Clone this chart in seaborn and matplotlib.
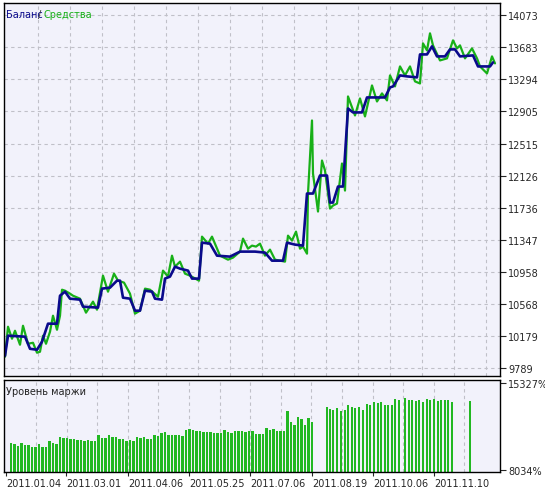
import numpy as np
import pandas as pd
import seaborn as sns
import matplotlib
matplotlib.use("Agg")
import matplotlib.pyplot as plt

# time position (bar index) and balance / equity values
bal_t = [0, 3, 20, 25, 32, 37, 43, 52, 55, 60, 65, 75, 78, 93, 97, 105, 112, 115, 118, 125, 130, 135, 140, 147,
         150, 157, 160, 165, 170, 175, 183, 187, 194, 197, 205, 212, 225, 235, 250, 260, 267, 278, 282, 290, 298,
         302, 308, 315, 322, 325, 328, 333, 338, 343, 348, 357, 362, 380, 385, 388, 395, 402, 412, 415, 422, 427,
         432, 440, 445, 450, 455, 468, 473, 485, 488]
balance = [9935, 10179, 10167, 10020, 10008, 10106, 10325, 10325, 10665, 10714, 10629, 10617, 10532, 10520, 10751,
           10763, 10848, 10848, 10641, 10629, 10483, 10483, 10726, 10714, 10629, 10617, 10873, 10897, 11018, 10994,
           10970, 10873, 10873, 11310, 11298, 11152, 11140, 11201, 11201, 11189, 11091, 11091, 11310, 11286, 11274,
           11907, 11907, 12126, 12126, 11797, 11797, 11992, 11992, 12941, 12893, 12893, 13075, 13075, 13197, 13209,
           13343, 13331, 13319, 13598, 13598, 13696, 13574, 13574, 13659, 13659, 13574, 13586, 13452, 13452, 13501]

eq_t = [0, 3, 7, 10, 15, 18, 23, 28, 32, 35, 38, 41, 45, 48, 52, 55, 57, 60, 65, 68, 75, 81, 88, 92, 98, 103, 109,
        113, 119, 125, 130, 135, 140, 145, 153, 158, 163, 167, 170, 175, 180, 185, 194, 197, 203, 207, 215, 223, 228,
        235, 238, 243, 247, 251, 255, 260, 265, 270, 280, 283, 287, 291, 295, 298, 302, 303, 307, 308, 313, 317, 320,
        325, 328, 332, 337, 340, 343, 350, 355, 360, 367, 372, 377, 382, 385, 390, 395, 400, 405, 410, 415, 418, 422,
        425, 428, 435, 442, 448, 452, 455, 460, 467, 472, 475, 482, 487, 490]
equity = [9923, 10288, 10142, 10239, 10069, 10300, 10081, 10093, 9972, 9984, 10179, 10081, 10227, 10422, 10251, 10422,
          10738, 10726, 10690, 10665, 10629, 10459, 10593, 10495, 10909, 10714, 10933, 10848, 10824, 10690, 10447,
          10483, 10751, 10738, 10653, 10970, 10897, 11152, 11018, 11079, 10933, 10909, 10848, 11383, 11298, 11383,
          11152, 11103, 11128, 11201, 11359, 11237, 11274, 11262, 11298, 11152, 11225, 11103, 11079, 11395, 11335,
          11444, 11237, 11262, 11176, 11907, 12795, 12150, 11688, 12308, 12187, 11724, 11761, 11785, 12272, 11943,
          13087, 12856, 13063, 12844, 13221, 13026, 13124, 13039, 13343, 13209, 13452, 13343, 13452, 13270, 13245,
          13732, 13647, 13854, 13708, 13525, 13550, 13769, 13671, 13708, 13550, 13671, 13550, 13452, 13367, 13574,
          13489]

margin = [10326, 10207, 10088, 10326, 10148, 10148, 9969, 9969, 10207, 10029, 10029, 10505, 10326, 10267, 10862,
          10743, 10743, 10684, 10624, 10564, 10564, 10505, 10564, 10505, 10505, 11011, 10743, 10743, 10981, 10862,
          10862, 10684, 10654, 10505, 10564, 10505, 10803, 10743, 10862, 10684, 10684, 11011, 10951, 11160, 11219,
          11011, 10981, 11011, 10981, 10922, 11398, 11458, 11428, 11368, 11368, 11219, 11249, 11279, 11190, 11160,
          11130, 11428, 11279, 11190, 11338, 11309, 11368, 11249, 11309, 11338, 11071, 11100, 11100, 11547, 11398,
          11458, 11309, 11368, 11338, 13035, 12112, 11845, 12500, 12351, 11815,
          12410, 12112, 13303, 13184, 13125, 13244, 13035, 13065, 13482, 13333, 13244, 13363, 13125, 13601, 13541,
          13780, 13661, 13750, 13541, 13541, 13541, 14048, 13899, 14077, 13958, 13899, 13839, 13899, 13780, 14018,
          13958, 14018, 13839, 13928, 13958, 13928, 13720, 13839]
margin_t2 = [322, 325, 328, 332, 336, 340, 343, 347, 350, 354, 358, 362, 365, 369, 373, 376, 380, 383, 387, 390,
             394, 400, 404, 407, 411, 414, 418, 422, 425, 429, 433, 436, 440, 443, 447, 465]
n1 = len(margin) - len(margin_t2)
margin_t = list(np.linspace(6, 307, n1)) + margin_t2

y_ticks = [9789, 10179, 10568, 10958, 11347, 11736, 12126, 12515, 12905, 13294, 13683, 14073]
date_t = [1, 61, 123, 184, 245, 307, 368, 429]
date_labels = ["2011.01.04", "2011.03.01", "2011.04.06", "2011.05.25",
               "2011.07.06", "2011.08.19", "2011.10.06", "2011.11.10"]

sns.set_style("white")
plt.rcParams['font.family'] = ['DejaVu Sans']
bg = "#F2F2FB"
fig = plt.figure(figsize=(5.45, 4.89), dpi=100)
ax1 = fig.add_axes([4/545, 1 - 377/489, 496/545, 373/489])
ax2 = fig.add_axes([4/545, 1 - 473/489, 496/545, 92/489])

bal_df = pd.DataFrame({"t": bal_t, "v": balance})
eq_df = pd.DataFrame({"t": eq_t, "v": equity})
sns.lineplot(data=eq_df, x="t", y="v", ax=ax1, color="#18B018", lw=1.6, estimator=None, sort=False)
sns.lineplot(data=bal_df, x="t", y="v", ax=ax1, color="#0A0A8C", lw=1.9, estimator=None, sort=False)

for ax in (ax1, ax2):
    ax.set_facecolor(bg)
    ax.set_xlim(-1, 495)
    for s in ax.spines.values():
        s.set_color("black")
        s.set_linewidth(1)
    ax.set_xlabel("")
    ax.set_ylabel("")
    ax.yaxis.tick_right()
    ax.tick_params(axis="y", length=4, width=0.8, labelsize=7, pad=2, direction="out", right=True)

# top panel
ax1.set_ylim(9789 - 100, 14073 + 150)
ax1.set_yticks(y_ticks)
ax1.set_yticklabels([str(v) for v in y_ticks])
for yv in y_ticks:
    ax1.axhline(yv, color="#C0C0C8", lw=0.8, ls=(0, (3, 3)), zorder=0)
for xv in np.arange(33, 490, 32):
    ax1.axvline(xv, color="#C0C0C8", lw=0.8, ls=(0, (3, 3)), zorder=0)
ax1.set_xticks([])
ax1.text(0.005, 0.985, "Баланс", color="#0A0A8C", fontsize=7, transform=ax1.transAxes, va="top")
ax1.text(0.068, 0.985, "/", color="#333333", fontsize=7, transform=ax1.transAxes, va="top")
ax1.text(0.08, 0.985, "Средства", color="#18B018", fontsize=7, transform=ax1.transAxes, va="top")

# bottom panel
ax2.bar(margin_t, margin, width=2.2, bottom=0, color="#22B822", edgecolor="none", zorder=2)
ax2.set_ylim(7900, 15600)
ax2.set_yticks([8034, 15327])
ax2.set_yticklabels(["8034%", "15327%"])
for xv in np.arange(31, 470, 30.6):
    ax2.axvline(xv, color="#C0C0C8", lw=0.8, ls=(0, (3, 3)), zorder=0)
ax2.set_xticks(date_t)
ax2.set_xticklabels(date_labels, ha="left", fontsize=7)
ax2.tick_params(axis="x", length=3, width=0.8, pad=1, bottom=True)
ax2.text(0.005, 0.93, "Уровень маржи", color="#222222", fontsize=7, transform=ax2.transAxes, va="top")

fig.savefig("out.png", dpi=100, facecolor="white")
